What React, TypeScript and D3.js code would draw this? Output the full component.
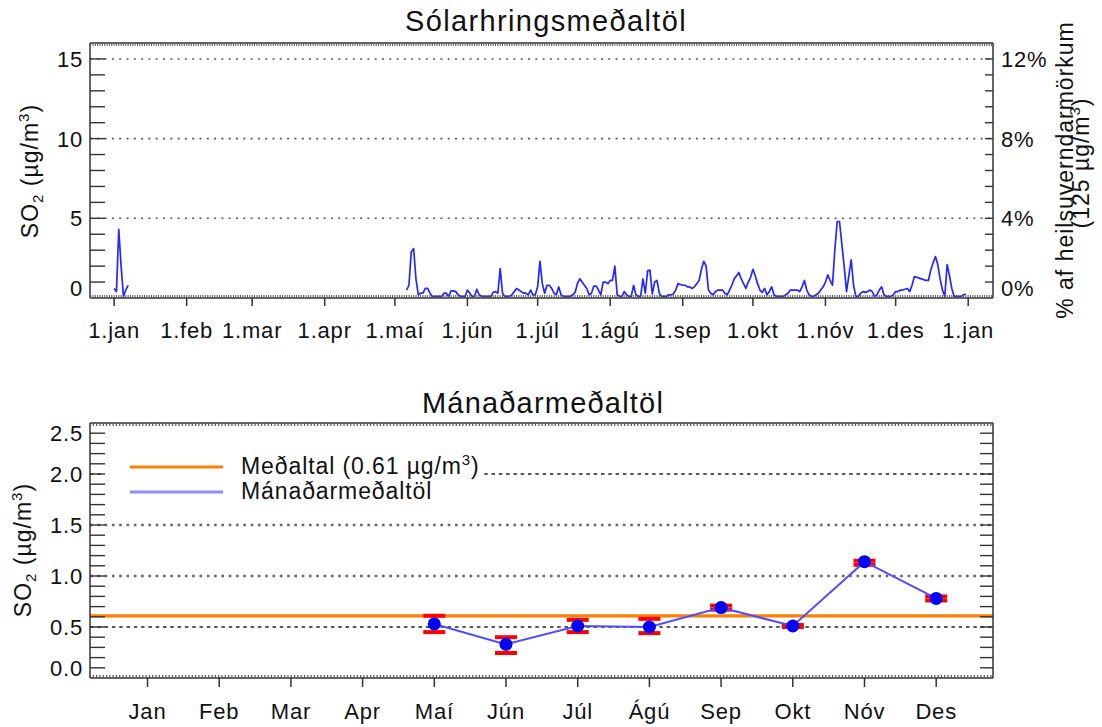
import React from 'react';
import * as d3 from 'd3';

const W = 1102;
const H = 727;
const FONT = "'Liberation Sans', Arial, Helvetica, sans-serif";

// ---------- Top chart: daily means (µg/m3), day index 0 = 1 Jan ----------
const janStart = 0;
const janDaily = [0.6, 0.4, 4.3, 2.0, 0.1, 0.5, 0.8];

const mayStart = 125;
const mayDaily = [0.5, 0.8, 2.9, 3.1, 1.2, 0.2, 0.3, 0.3, 0.6, 0.6, 0.3, 0.1, 0.1, 0.1, 0.1, 0.1, 0.3, 0.3, 0.1, 0.45, 0.45, 0.4, 0.2, 0.1, 0.1, 0.1];
const junStart = 151;
const junDaily = [0.5, 0.3, 0.1, 0.1, 0.55, 0.2, 0.1, 0.1, 0.1, 0.1, 0.1, 0.35, 0.4, 0.3, 1.85, 0.3, 0.1, 0.1, 0.1, 0.2, 0.4, 0.6, 0.5, 0.4, 0.3, 0.3, 0.2, 0.5, 0.2, 0.2];
const julStart = 181;
const julDaily = [0.7, 2.3, 0.9, 0.3, 0.8, 0.8, 0.6, 0.3, 0.2, 0.7, 0.2, 0.1, 0.1, 0.1, 0.1, 0.2, 0.35, 0.9, 1.2, 1.0, 0.8, 0.6, 0.2, 0.3, 0.75, 0.75, 0.5, 0.2, 1.0, 1.0, 0.9];
const augStart = 212;
const augDaily = [1.1, 1.1, 2.0, 0.2, 0.1, 0.1, 0.4, 0.2, 0.1, 0.1, 0.8, 0.2, 0.1, 0.1, 1.2, 0.3, 1.7, 1.75, 0.25, 1.0, 1.1, 0.3, 0.1, 0.1, 0.1, 0.2, 0.2, 0.25, 0.5, 0.9, 0.85];
const sepStart = 243;
const sepDaily = [0.8, 0.8, 0.7, 0.7, 0.6, 0.7, 0.9, 1.1, 1.8, 2.3, 2.0, 0.5, 0.3, 0.2, 0.4, 0.5, 0.5, 0.5, 0.3, 0.2, 0.5, 0.8, 1.2, 1.4, 1.6, 1.2, 0.9, 0.6, 1.0, 1.3];
const octStart = 273;
const octDaily = [1.8, 1.4, 0.9, 0.5, 0.35, 0.6, 0.2, 0.4, 0.7, 0.2, 0.1, 0.1, 0.1, 0.1, 0.2, 0.3, 0.5, 0.5, 0.5, 0.5, 0.4, 0.7, 1.1, 0.5, 0.2, 0.1, 0.1, 0.2, 0.3, 0.5, 0.7];
const novStart = 304;
const novDaily = [1.0, 1.45, 1.1, 0.8, 3.0, 4.8, 4.8, 3.4, 2.0, 0.4, 1.4, 2.4, 0.8, 0.1, 0.1, 0.3, 0.4, 0.35, 0.4, 0.5, 0.4, 0.1, 0.2, 0.5, 0.7, 0.2, 0.1, 0.1, 0.1, 0.2];
const decStart = 334;
const decDaily = [0.4, 0.4, 0.5, 0.5, 0.55, 0.6, 0.4, 0.8, 1.35, 1.3, 1.25, 1.2, 1.15, 1.1, 1.1, 1.75, 2.2, 2.6, 2.1, 1.2, 0.5, 0.1, 2.1, 1.4, 0.6, 0.1, 0.1, 0.1, 0.1, 0.2, 0.25];

const topTickDays = [0, 31, 59, 90, 120, 151, 181, 212, 243, 273, 304, 334, 365];
const topTickLabels = ['1.jan', '1.feb', '1.mar', '1.apr', '1.maí', '1.jún', '1.júl', '1.ágú', '1.sep', '1.okt', '1.nóv', '1.des', '1.jan'];
const topYTicks = [0, 5, 10, 15];
const topRightLabels = ['0%', '4%', '8%', '12%'];

// ---------- Bottom chart: monthly means ----------
const monthNames = ['Jan', 'Feb', 'Mar', 'Apr', 'Maí', 'Jún', 'Júl', 'Ágú', 'Sep', 'Okt', 'Nóv', 'Des'];
const monthIdx = [5, 6, 7, 8, 9, 10, 11, 12];
const monthMean = [0.53, 0.33, 0.51, 0.5, 0.69, 0.51, 1.14, 0.78];
const monthLow = [0.45, 0.245, 0.45, 0.44, 0.67, 0.5, 1.11, 0.76];
const monthHigh = [0.61, 0.4, 0.57, 0.58, 0.71, 0.52, 1.15, 0.8];
const overallMean = 0.61;
const botYTicks = [0, 0.5, 1.0, 1.5, 2.0, 2.5];

function toPoints(start: number, vals: number[]): [number, number][] {
  return vals.map((v, i) => [start + i, v]);
}

export default function App() {
  const xT = d3.scaleLinear().domain([-10.3, 375.6]).range([90, 993]);
  const yT = d3.scaleLinear().domain([0, 16]).range([298, 43]);
  const xB = d3.scaleLinear().domain([1, 12]).range([147.5, 936.2]);
  const yB = d3.scaleLinear().domain([0, 2.5]).range([678, 423]);

  const lineT = d3.line<[number, number]>().x(d => xT(d[0])).y(d => yT(d[1]));
  const janPts = toPoints(janStart, janDaily);
  const restPts = [
    ...toPoints(mayStart, mayDaily),
    ...toPoints(junStart, junDaily),
    ...toPoints(julStart, julDaily),
    ...toPoints(augStart, augDaily),
    ...toPoints(sepStart, sepDaily),
    ...toPoints(octStart, octDaily),
    ...toPoints(novStart, novDaily),
    ...toPoints(decStart, decDaily),
  ];

  const monthPts: [number, number][] = monthIdx.map((m, i) => [m, monthMean[i]]);
  const lineB = d3.line<[number, number]>().x(d => xB(d[0])).y(d => yB(d[1]));

  const axisColor = '#333';
  const tickFont = { fontFamily: FONT, fontSize: 22, letterSpacing: 0.8, fill: '#111' } as const;

  // dense minor ticks along the horizontal borders
  const denseTop = d3.range(-10, 376);
  const denseBot = d3.range(90, 993, 3.3);

  const topLeftMinor = d3.range(1, 16);
  const botMinor = d3.range(1, 25).map(v => v / 10);

  return (
    <svg width={W} height={H} style={{ position: 'absolute', left: 0, top: 0, display: 'block', background: '#fff' }}>
      <rect x={0} y={0} width={W} height={H} fill="#fff" />

      {/* ================= TOP CHART ================= */}
      <text x={546} y={31} textAnchor="middle" style={{ fontFamily: FONT, fontSize: 29, letterSpacing: 1.35, fill: '#111' }}>Sólarhringsmeðaltöl</text>

      {/* grid */}
      {[5, 10, 15].map(v => (
        <line key={'gt' + v} x1={90} x2={993} y1={yT(v)} y2={yT(v)} stroke="#555" strokeWidth={1.6} strokeDasharray="2 5.3" />
      ))}

      {/* data */}
      <path d={lineT(janPts) || ''} fill="none" stroke="#2626ff" strokeWidth={1.7} strokeLinejoin="round" />
      <path d={lineT(restPts) || ''} fill="none" stroke="#2626ff" strokeWidth={1.7} strokeLinejoin="round" />

      {/* frame */}
      <line x1={90} x2={90} y1={43} y2={298} stroke={axisColor} strokeWidth={1.5} />
      <line x1={993} x2={993} y1={43} y2={298} stroke={axisColor} strokeWidth={1.5} />
      <line x1={90} x2={993} y1={298} y2={298} stroke={axisColor} strokeWidth={1.5} />
      <line x1={90} x2={993} y1={43} y2={43} stroke={axisColor} strokeWidth={1.5} />
      {denseTop.map(d => (
        <g key={'dt' + d}>
          <line x1={xT(d)} x2={xT(d)} y1={298} y2={295} stroke="#555" strokeWidth={1} />
          <line x1={xT(d)} x2={xT(d)} y1={43} y2={46} stroke="#555" strokeWidth={1} />
        </g>
      ))}
      {topLeftMinor.map(v => (
        <g key={'tl' + v}>
          <line x1={90} x2={105} y1={yT(v)} y2={yT(v)} stroke={axisColor} strokeWidth={1.4} />
          <line x1={993} x2={985} y1={yT(v)} y2={yT(v)} stroke={axisColor} strokeWidth={1.4} />
        </g>
      ))}
      {topTickDays.map((d, i) => (
        <g key={'tx' + i}>
          <line x1={xT(d)} x2={xT(d)} y1={298} y2={306} stroke={axisColor} strokeWidth={1.5} />
          <text x={xT(d)} y={338} textAnchor="middle" style={tickFont}>{topTickLabels[i]}</text>
        </g>
      ))}
      {topYTicks.map((v, i) => {
        const cy = v === 0 ? yT(v) - 10 : yT(v);
        return (
          <g key={'ty' + v}>
            <text x={83} y={cy + 8} textAnchor="end" style={tickFont}>{String(v)}</text>
            <text x={1001} y={cy + 8} textAnchor="start" style={tickFont}>{topRightLabels[i]}</text>
          </g>
        );
      })}
      <text transform="translate(38,171) rotate(-90)" textAnchor="middle" style={{ fontFamily: FONT, fontSize: 23, letterSpacing: 1, fill: '#111' }}>
        SO<tspan fontSize={15} dy={5}>2</tspan><tspan dy={-5}> (µg/m</tspan><tspan fontSize={15} dy={-9}>3</tspan><tspan dy={9}>)</tspan>
      </text>
      <text transform="translate(1073,170) rotate(-90)" textAnchor="middle" style={{ fontFamily: FONT, fontSize: 23, letterSpacing: 1, fill: '#111' }}>% af heilsuverndarmörkum</text>
      <text transform="translate(1089,163) rotate(-90)" textAnchor="middle" style={{ fontFamily: FONT, fontSize: 23, letterSpacing: 1, fill: '#111' }}>
        (125 µg/m<tspan fontSize={15} dy={-9}>3</tspan><tspan dy={9}>)</tspan>
      </text>

      {/* ================= BOTTOM CHART ================= */}
      <text x={543} y={413} textAnchor="middle" style={{ fontFamily: FONT, fontSize: 29, letterSpacing: 1.2, fill: '#111' }}>Mánaðarmeðaltöl</text>

      {[1.0, 1.5].map(v => (
        <line key={'gd' + v} x1={90} x2={993} y1={yB(v)} y2={yB(v)} stroke="#666" strokeWidth={2.4} strokeDasharray="2.6 4.7" />
      ))}
      {[0.5, 2.0].map(v => (
        <line key={'gs' + v} x1={90} x2={993} y1={yB(v)} y2={yB(v)} stroke="#222" strokeWidth={1.3} strokeDasharray="3.5 3.8" />
      ))}

      {/* legend background */}
      <rect x={104} y={447} width={377} height={60} fill="#fff" />

      {/* mean line */}
      <line x1={90} x2={993} y1={yB(overallMean)} y2={yB(overallMean)} stroke="#ff8000" strokeWidth={3.2} />

      {/* error bars */}
      {monthIdx.map((m, i) => (
        <g key={'eb' + m}>
          <line x1={xB(m)} x2={xB(m)} y1={yB(monthLow[i])} y2={yB(monthHigh[i])} stroke="#ff0000" strokeWidth={2} />
          <line x1={xB(m) - 11} x2={xB(m) + 11} y1={yB(monthLow[i])} y2={yB(monthLow[i])} stroke="#ff0000" strokeWidth={4} />
          <line x1={xB(m) - 11} x2={xB(m) + 11} y1={yB(monthHigh[i])} y2={yB(monthHigh[i])} stroke="#ff0000" strokeWidth={4} />
        </g>
      ))}
      <path d={lineB(monthPts) || ''} fill="none" stroke="#4d4dff" strokeWidth={2} />
      {monthPts.map(p => (
        <circle key={'dot' + p[0]} cx={xB(p[0])} cy={yB(p[1])} r={6.5} fill="#0000ff" />
      ))}

      {/* legend */}
      <line x1={130} x2={223} y1={467} y2={467} stroke="#ff8000" strokeWidth={3} />
      <line x1={130} x2={223} y1={492} y2={492} stroke="#8c8cff" strokeWidth={3} />
      <text x={241} y={474} style={{ fontFamily: FONT, fontSize: 23, letterSpacing: 0.9, fill: '#111' }}>
        Meðaltal (0.61 µg/m<tspan fontSize={15} dy={-9}>3</tspan><tspan dy={9}>)</tspan>
      </text>
      <text x={241} y={499} style={{ fontFamily: FONT, fontSize: 23, letterSpacing: 0.9, fill: '#111' }}>Mánaðarmeðaltöl</text>

      {/* frame */}
      <line x1={90} x2={90} y1={423} y2={678} stroke={axisColor} strokeWidth={1.5} />
      <line x1={993} x2={993} y1={423} y2={678} stroke={axisColor} strokeWidth={1.5} />
      <line x1={90} x2={993} y1={678} y2={678} stroke={axisColor} strokeWidth={1.5} />
      <line x1={90} x2={993} y1={423} y2={423} stroke={axisColor} strokeWidth={1.5} />
      {denseBot.map((x, i) => (
        <g key={'db' + i}>
          <line x1={x} x2={x} y1={678} y2={675} stroke="#555" strokeWidth={1.2} />
          <line x1={x} x2={x} y1={423} y2={426} stroke="#555" strokeWidth={1.2} />
        </g>
      ))}
      {botMinor.map(v => (
        <g key={'bm' + v}>
          <line x1={90} x2={105} y1={yB(v)} y2={yB(v)} stroke={axisColor} strokeWidth={1.4} />
          <line x1={993} x2={980} y1={yB(v)} y2={yB(v)} stroke={axisColor} strokeWidth={1.4} />
        </g>
      ))}
      {monthNames.map((n, i) => (
        <g key={'mx' + n}>
          <line x1={xB(i + 1)} x2={xB(i + 1)} y1={678} y2={687} stroke={axisColor} strokeWidth={1.5} />
          <text x={xB(i + 1)} y={719} textAnchor="middle" style={tickFont}>{n}</text>
        </g>
      ))}
      {botYTicks.map(v => {
        let cy = yB(v);
        if (v === 0) cy -= 10;
        if (v === 2.5) cy += 10;
        return (
          <text key={'by' + v} x={83} y={cy + 8} textAnchor="end" style={tickFont}>{v.toFixed(1)}</text>
        );
      })}
      <text transform="translate(31,550) rotate(-90)" textAnchor="middle" style={{ fontFamily: FONT, fontSize: 23, letterSpacing: 1, fill: '#111' }}>
        SO<tspan fontSize={15} dy={5}>2</tspan><tspan dy={-5}> (µg/m</tspan><tspan fontSize={15} dy={-9}>3</tspan><tspan dy={9}>)</tspan>
      </text>
    </svg>
  );
}
